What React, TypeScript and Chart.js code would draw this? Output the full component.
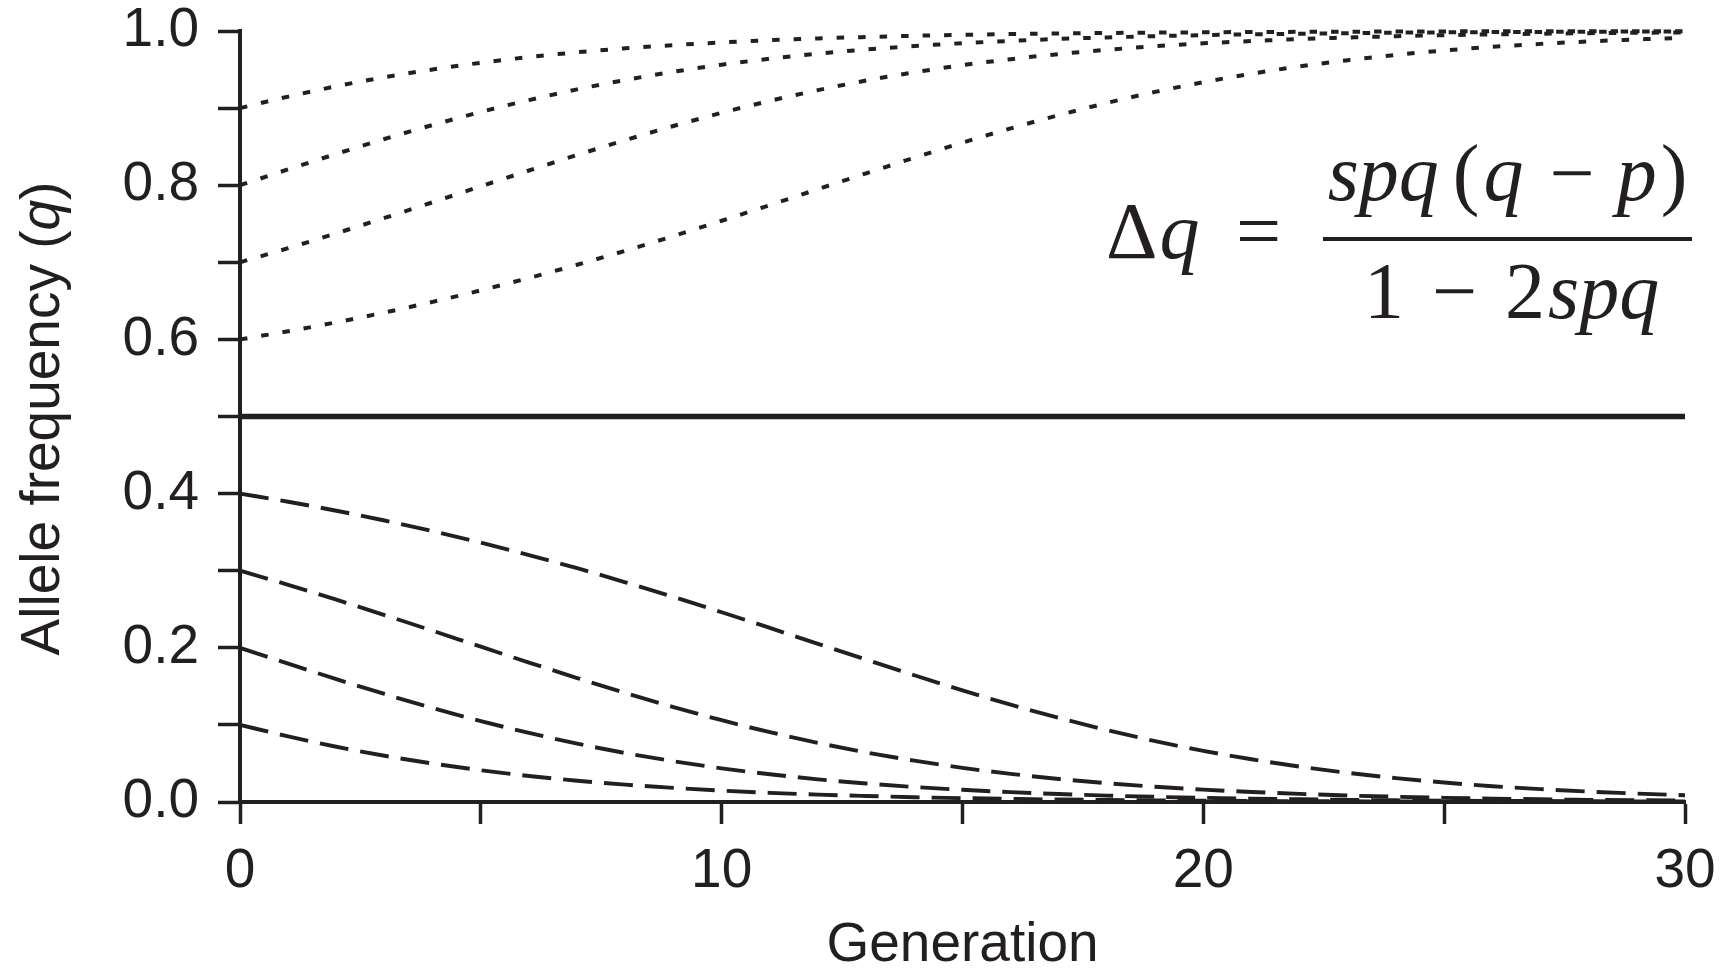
import React, { useEffect, useRef } from "react";
import { Chart, registerables } from "chart.js";

Chart.register(...registerables);

const INK = "#231f20";
const SANS = '"Liberation Sans", Arial, Helvetica, sans-serif';
const SERIF = '"Liberation Serif", "Times New Roman", Times, serif';

const generations = [0, 1, 2, 3, 4, 5, 6, 7, 8, 9, 10, 11, 12, 13, 14, 15, 16, 17, 18, 19, 20, 21, 22, 23, 24, 25, 26, 27, 28, 29, 30];

// allele frequency trajectories
const qFrom04 = [0.4, 0.3894, 0.3778, 0.3651, 0.3513, 0.3364, 0.3203, 0.3032, 0.285, 0.2659, 0.2461, 0.2258, 0.2051, 0.1846, 0.1644, 0.1448, 0.1263, 0.1091, 0.0933, 0.079, 0.0664, 0.0554, 0.0459, 0.0378, 0.031, 0.0253, 0.0205, 0.0167, 0.0135, 0.0109, 0.0088];
const qFrom03 = [0.3, 0.2817, 0.2624, 0.2425, 0.2221, 0.2014, 0.1809, 0.1608, 0.1415, 0.1232, 0.1061, 0.0906, 0.0767, 0.0643, 0.0536, 0.0443, 0.0365, 0.0299, 0.0244, 0.0198, 0.016, 0.013, 0.0105, 0.0084, 0.0068, 0.0054, 0.0044, 0.0035, 0.0028, 0.0023, 0.0018];
const qFrom02 = [0.2, 0.1795, 0.1594, 0.1401, 0.1219, 0.105, 0.0896, 0.0757, 0.0635, 0.0529, 0.0437, 0.036, 0.0294, 0.024, 0.0195, 0.0158, 0.0128, 0.0103, 0.0083, 0.0067, 0.0054, 0.0043, 0.0035, 0.0028, 0.0022, 0.0018, 0.0014, 0.0012, 0.0009, 0.0007, 0.0006];
const qFrom01 = [0.1, 0.0851, 0.0717, 0.06, 0.0499, 0.0412, 0.0338, 0.0276, 0.0225, 0.0183, 0.0148, 0.0119, 0.0096, 0.0078, 0.0062, 0.005, 0.004, 0.0032, 0.0026, 0.0021, 0.0017, 0.0013, 0.0011, 0.0009, 0.0007, 0.0005, 0.0004, 0.0004, 0.0003, 0.0002, 0.0002];
const qFrom06 = [0.6, 0.6106, 0.6222, 0.6349, 0.6487, 0.6636, 0.6797, 0.6968, 0.715, 0.7341, 0.7539, 0.7742, 0.7949, 0.8154, 0.8356, 0.8552, 0.8737, 0.8909, 0.9067, 0.921, 0.9336, 0.9446, 0.9541, 0.9622, 0.969, 0.9747, 0.9795, 0.9833, 0.9865, 0.9891, 0.9912];
const qFrom07 = [0.7, 0.7183, 0.7376, 0.7575, 0.7779, 0.7986, 0.8191, 0.8392, 0.8585, 0.8768, 0.8939, 0.9094, 0.9233, 0.9357, 0.9464, 0.9557, 0.9635, 0.9701, 0.9756, 0.9802, 0.984, 0.987, 0.9895, 0.9916, 0.9932, 0.9946, 0.9956, 0.9965, 0.9972, 0.9977, 0.9982];
const qFrom08 = [0.8, 0.8205, 0.8406, 0.8599, 0.8781, 0.895, 0.9104, 0.9243, 0.9365, 0.9471, 0.9563, 0.964, 0.9706, 0.976, 0.9805, 0.9842, 0.9872, 0.9897, 0.9917, 0.9933, 0.9946, 0.9957, 0.9965, 0.9972, 0.9978, 0.9982, 0.9986, 0.9988, 0.9991, 0.9993, 0.9994];
const qFrom09 = [0.9, 0.9149, 0.9283, 0.94, 0.9501, 0.9588, 0.9662, 0.9724, 0.9775, 0.9817, 0.9852, 0.9881, 0.9904, 0.9922, 0.9938, 0.995, 0.996, 0.9968, 0.9974, 0.9979, 0.9983, 0.9987, 0.9989, 0.9991, 0.9993, 0.9995, 0.9996, 0.9996, 0.9997, 0.9998, 0.9998];

const equilibriumGenerations = [0, 30];
const equilibriumQ = [0.5, 0.5];

const xTickValues = [0, 5, 10, 15, 20, 25, 30];
const xTickLabels = ["0", "", "10", "", "20", "", "30"];
const yTickValues = [0, 0.1, 0.2, 0.3, 0.4, 0.5, 0.6, 0.7, 0.8, 0.9, 1.0];
const yTickLabels = ["0.0", "", "0.2", "", "0.4", "", "0.6", "", "0.8", "", "1.0"];

const xTitle = "Generation";
const yTitleParts = ["Allele frequency (", "q", ")"];

// formula runs: [text, italic, gapAfter]
const formulaLeft: [string, boolean, number][] = [["Δ", false, 2], ["q", true, 0]];
const formulaEquals = "=";
const formulaNumerator: [string, boolean, number][] = [["spq", true, 14], ["(", false, 4], ["q", true, 26], ["−", false, 22], ["p", true, 4], [")", false, 0]];
const formulaDenominator: [string, boolean, number][] = [["1", false, 28], ["−", false, 28], ["2", false, 3], ["spq", true, 0]];

const toPoints = (xs: number[], ys: number[]) => ys.map((y, i) => ({ x: xs[i], y }));

const dottedStyle = { borderDash: [7.5, 14], borderWidth: 4 };
const dashedStyle = { borderDash: [29, 12], borderWidth: 3.9 };

const yTitlePlugin = {
  id: "yTitle",
  afterDraw(chart: any) {
    const { ctx, chartArea } = chart;
    ctx.save();
    const fs = 55;
    const normal = `${fs}px ${SANS}`;
    const ital = `italic ${fs}px ${SANS}`;
    const fonts = [normal, ital, normal];
    const widths = yTitleParts.map((t, i) => {
      ctx.font = fonts[i];
      return ctx.measureText(t).width;
    });
    const total = widths.reduce((a, b) => a + b, 0);
    const cy = (chartArea.top + chartArea.bottom) / 2 + 2;
    ctx.translate(44, cy);
    ctx.rotate(-Math.PI / 2);
    ctx.fillStyle = INK;
    ctx.textBaseline = "middle";
    ctx.textAlign = "left";
    let x = -total / 2;
    yTitleParts.forEach((t, i) => {
      ctx.font = fonts[i];
      ctx.fillText(t, x, 0);
      x += widths[i];
    });
    ctx.restore();
  },
};

const formulaPlugin = {
  id: "formula",
  afterDraw(chart: any) {
    const { ctx } = chart;
    const fs = 80;
    const up = `${fs}px ${SERIF}`;
    const it = `italic ${fs}px ${SERIF}`;
    ctx.save();
    ctx.fillStyle = INK;
    ctx.strokeStyle = INK;
    ctx.textBaseline = "alphabetic";
    ctx.textAlign = "left";
    const runWidth = (runs: [string, boolean, number][]) =>
      runs.reduce((acc, [t, ital, gap]) => {
        ctx.font = ital ? it : up;
        return acc + ctx.measureText(t).width + gap;
      }, 0);
    const drawRuns = (runs: [string, boolean, number][], x0: number, y: number) => {
      let x = x0;
      runs.forEach(([t, ital, gap]) => {
        ctx.font = ital ? it : up;
        ctx.fillText(t, x, y);
        x += ctx.measureText(t).width + gap;
      });
    };
    // left side
    drawRuns(formulaLeft, 1106, 258);
    ctx.font = up;
    ctx.fillText(formulaEquals, 1236, 258);
    // fraction bar
    const barL = 1323;
    const barR = 1692;
    ctx.lineWidth = 3.8;
    ctx.beginPath();
    ctx.moveTo(barL, 239);
    ctx.lineTo(barR, 239);
    ctx.stroke();
    const cx = (barL + barR) / 2;
    const nw = runWidth(formulaNumerator);
    drawRuns(formulaNumerator, cx - nw / 2, 200);
    const dw = runWidth(formulaDenominator);
    drawRuns(formulaDenominator, cx - dw / 2 + 4, 318);
    ctx.restore();
  },
};

export default function App() {
  const canvasRef = useRef<HTMLCanvasElement | null>(null);

  useEffect(() => {
    const canvas = canvasRef.current;
    if (!canvas) return;
    const chart = new Chart(canvas, {
      type: "line",
      data: {
        datasets: [
          { data: toPoints(generations, qFrom09), ...dottedStyle },
          { data: toPoints(generations, qFrom08), ...dottedStyle },
          { data: toPoints(generations, qFrom07), ...dottedStyle },
          { data: toPoints(generations, qFrom06), ...dottedStyle },
          { data: toPoints(equilibriumGenerations, equilibriumQ), borderWidth: 5.5 },
          { data: toPoints(generations, qFrom04), ...dashedStyle },
          { data: toPoints(generations, qFrom03), ...dashedStyle },
          { data: toPoints(generations, qFrom02), ...dashedStyle },
          { data: toPoints(generations, qFrom01), ...dashedStyle },
        ].map((d) => ({
          ...d,
          borderColor: INK,
          backgroundColor: INK,
          pointRadius: 0,
          fill: false,
          cubicInterpolationMode: "monotone" as const,
          clip: false as any,
        })),
      },
      options: {
        responsive: false,
        animation: false,
        devicePixelRatio: 1,
        layout: { padding: { top: 31, right: 43, left: 0, bottom: 0 } },
        plugins: { legend: { display: false }, tooltip: { enabled: false } },
        scales: {
          x: {
            type: "linear",
            min: 0,
            max: 30,
            afterBuildTicks: (scale: any) => {
              scale.ticks = xTickValues.map((v) => ({ value: v }));
            },
            afterFit: (scale: any) => {
              scale.height = 166;
              scale.paddingLeft = 0;
              scale.paddingRight = 0;
            },
            grid: {
              drawOnChartArea: false,
              drawTicks: true,
              tickLength: 22,
              tickWidth: 3.5,
              tickColor: INK,
            },
            border: { display: true, color: INK, width: 4 },
            ticks: {
              autoSkip: false,
              maxRotation: 0,
              padding: 20,
              color: INK,
              font: { family: SANS, size: 55, lineHeight: 1 },
              callback: (_v: any, i: number) => xTickLabels[i],
            },
            title: {
              display: true,
              text: xTitle,
              color: INK,
              padding: 0,
              font: { family: SANS, size: 55, lineHeight: 0.8 },
            },
          },
          y: {
            type: "linear",
            min: 0,
            max: 1,
            afterBuildTicks: (scale: any) => {
              scale.ticks = yTickValues.map((v) => ({ value: v }));
            },
            afterFit: (scale: any) => {
              scale.width = 240;
              scale.paddingTop = 0;
              scale.paddingBottom = 0;
            },
            grid: {
              drawOnChartArea: false,
              drawTicks: true,
              tickLength: 22,
              tickWidth: 3.5,
              tickColor: INK,
            },
            border: { display: true, color: INK, width: 4 },
            ticks: {
              autoSkip: false,
              padding: 19,
              color: INK,
              font: { family: SANS, size: 55, lineHeight: 1 },
              callback: (_v: any, i: number) => yTickLabels[i],
            },
          },
        },
      },
      plugins: [yTitlePlugin, formulaPlugin],
    });
    return () => chart.destroy();
  }, []);

  return (
    <div style={{ position: "absolute", left: 0, top: 0, width: 1728, height: 968, background: "#fff" }}>
      <canvas ref={canvasRef} width={1728} height={968} style={{ display: "block", width: 1728, height: 968 }} />
    </div>
  );
}
